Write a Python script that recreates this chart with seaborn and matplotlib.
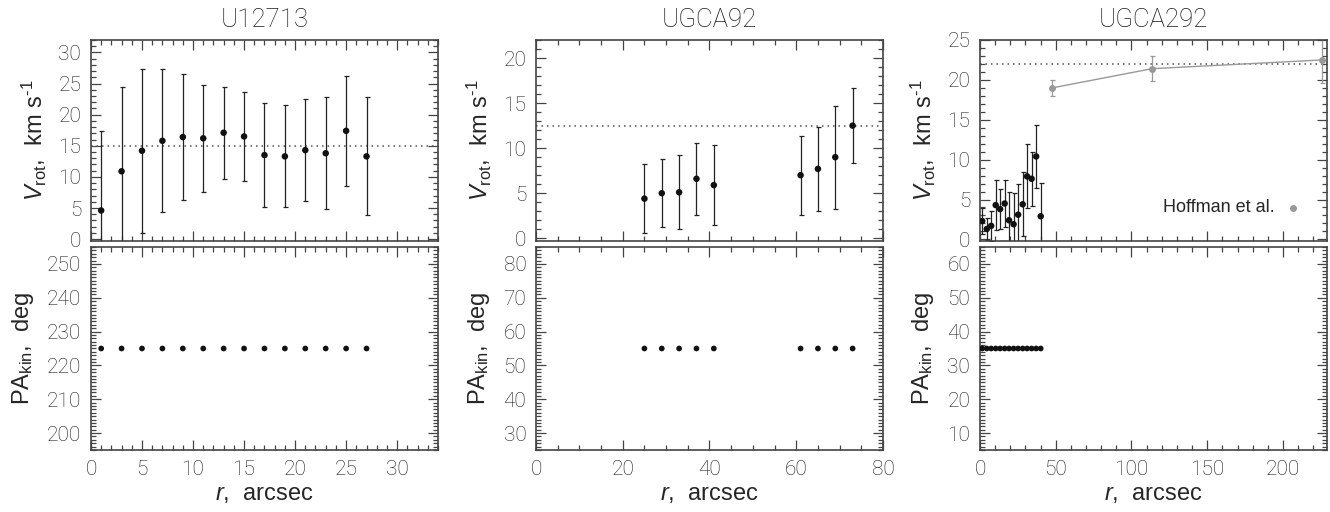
import pandas as pd
import seaborn as sns
import matplotlib.pyplot as plt
from matplotlib.ticker import MultipleLocator

# ---- data ----
# U12713
u127_r = [1, 3, 5, 7, 9, 11, 13, 15, 17, 19, 21, 23, 25, 27]
u127_v = [4.6, 10.9, 14.2, 15.8, 16.4, 16.2, 17.1, 16.5, 13.5, 13.3, 14.3, 13.8, 17.4, 13.3]
u127_err = [12.8, 13.5, 13.2, 11.5, 10.1, 8.6, 7.4, 7.2, 8.3, 8.2, 8.2, 9.0, 8.8, 9.5]
u127_pa = [225, 225, 225, 225, 225, 225, 225, 225, 225, 225, 225, 225, 225, 225]
u127_vsys = 15.0

# UGCA92
ugca92_r = [25, 29, 33, 37, 41, 61, 65, 69, 73]
ugca92_v = [4.4, 5.0, 5.1, 6.6, 5.9, 7.0, 7.7, 9.0, 12.5]
ugca92_err = [3.8, 3.8, 4.1, 4.0, 4.4, 4.4, 4.7, 5.7, 4.2]
ugca92_pa = [55, 55, 55, 55, 55, 55, 55, 55, 55]
ugca92_vsys = 12.5

# UGCA292
ugca292_r = [1.5, 4.5, 7.4, 10.4, 13.3, 16.3, 19.2, 22.2, 25.2, 28.2, 31.1, 34.1, 37.1, 40.1]
ugca292_v = [2.3, 1.3, 1.7, 4.3, 3.8, 4.5, 2.4, 1.9, 3.1, 4.4, 7.9, 7.6, 10.4, 2.9]
ugca292_err = [1.6, 1.4, 1.9, 3.1, 2.5, 2.9, 3.6, 3.9, 3.8, 4.0, 4.0, 3.4, 4.0, 4.2]
ugca292_pa = [35, 35, 35, 35, 35, 35, 35, 35, 35, 35, 35, 35, 35, 35]
ugca292_vsys = 22.0

# Hoffman et al. points for UGCA292
hoff_r = [47.8, 113.5, 226.0]
hoff_v = [19.0, 21.4, 22.5]
hoff_err = [1.0, 1.6, 2.9]

panels = [
    dict(name="U12713", r=u127_r, v=u127_v, err=u127_err, pa=u127_pa, vsys=u127_vsys,
         xlim=(0, 34), vlim=(-0.3, 32), palim=(195, 255),
         xmaj=5, xmin=1, vmaj=5, vmin=1),
    dict(name="UGCA92", r=ugca92_r, v=ugca92_v, err=ugca92_err, pa=ugca92_pa, vsys=ugca92_vsys,
         xlim=(0, 80), vlim=(-0.3, 22), palim=(25, 85),
         xmaj=20, xmin=5, vmaj=5, vmin=1),
    dict(name="UGCA292", r=ugca292_r, v=ugca292_v, err=ugca292_err, pa=ugca292_pa, vsys=ugca292_vsys,
         xlim=(0, 229), vlim=(-0.2, 25), palim=(5, 65),
         xmaj=50, xmin=10, vmaj=5, vmin=1),
]

sns.set_theme(style="ticks")
plt.rcParams["font.family"] = ["Roboto", "DejaVu Sans"]
plt.rcParams["mathtext.fontset"] = "custom"
plt.rcParams["mathtext.rm"] = "Liberation Sans"
plt.rcParams["mathtext.it"] = "Liberation Sans:italic"

LABEL_FONT = "Liberation Sans"
THIN_FAMILY = ["Roboto", "DejaVu Sans"]
AX_COL = "#444444"
TXT_COL = "#1a1a1a"
DOT_COL = "#111111"
GREY = "#999999"

fig = plt.figure(figsize=(13.3, 5.12), dpi=100)
lefts = [0.0684, 0.4030, 0.7368]
width = 0.2609


def style_axis(ax, p, ymaj, ymin):
    ax.xaxis.set_major_locator(MultipleLocator(p["xmaj"]))
    ax.xaxis.set_minor_locator(MultipleLocator(p["xmin"]))
    ax.yaxis.set_major_locator(MultipleLocator(ymaj))
    ax.yaxis.set_minor_locator(MultipleLocator(ymin))
    ax.tick_params(which="both", direction="in", top=True, right=True, color=AX_COL, width=0.9)
    ax.tick_params(which="major", length=7, labelsize=15, pad=7, labelcolor=TXT_COL)
    ax.tick_params(which="minor", length=3.5)
    for s in ax.spines.values():
        s.set_color(AX_COL)
        s.set_linewidth(1.2)
    for lab in ax.get_xticklabels() + ax.get_yticklabels():
        lab.set_fontfamily(THIN_FAMILY)
        lab.set_fontweight("light")


for i, p in enumerate(panels):
    df = pd.DataFrame({"r": p["r"], "v": p["v"], "err": p["err"], "pa": p["pa"]})

    # rotation curve
    ax = fig.add_axes([lefts[i], 0.5293, width, 0.3926])
    ax.axhline(p["vsys"], color="#555555", ls=(0, (1, 2.6)), lw=1.1, zorder=1)
    ax.errorbar(df["r"], df["v"], yerr=df["err"], fmt="none", ecolor="#222222",
                elinewidth=0.9, capsize=1.8, capthick=0.9, zorder=2)
    sns.scatterplot(data=df, x="r", y="v", ax=ax, color=DOT_COL, s=22,
                    edgecolor="none", zorder=3, legend=False)
    if p["name"] == "UGCA292":
        hdf = pd.DataFrame({"r": hoff_r, "v": hoff_v, "err": hoff_err})
        ax.errorbar(hdf["r"], hdf["v"], yerr=hdf["err"], fmt="none", ecolor=GREY,
                    elinewidth=0.9, capsize=1.8, capthick=0.9, zorder=2)
        sns.lineplot(data=hdf, x="r", y="v", ax=ax, color=GREY, lw=1.0, zorder=2,
                     marker="o", markersize=5, markeredgewidth=0, clip_on=False)
        ax.scatter([], [], color=GREY, s=16, label="Hoffman et al.")
        ax.legend(loc="center right", frameon=False, markerfirst=False,
                  handletextpad=0.0, borderaxespad=0.0, bbox_to_anchor=(0.975, 0.165),
                  prop={"family": LABEL_FONT, "size": 13})
    ax.set_xlim(p["xlim"])
    ax.set_ylim(p["vlim"])
    style_axis(ax, p, p["vmaj"], p["vmin"])
    ax.tick_params(labelbottom=False)
    ax.set_xlabel("")
    ax.set_ylabel(r"$V_{\rm rot}$,  km s$^{\text{-1}}$", fontsize=17, family=LABEL_FONT, labelpad=7)
    ax.set_title(p["name"], fontsize=18.5, pad=9, color=TXT_COL,
                 family=THIN_FAMILY, weight="light")

    # position angle
    ax2 = fig.add_axes([lefts[i], 0.1211, width, 0.3965])
    sns.scatterplot(data=df, x="r", y="pa", ax=ax2, color=DOT_COL, s=17,
                    edgecolor="none", zorder=3, legend=False)
    ax2.set_xlim(p["xlim"])
    ax2.set_ylim(p["palim"])
    style_axis(ax2, p, 10, 1)
    ax2.set_xlabel(r"$r$,  arcsec", fontsize=17, family=LABEL_FONT, labelpad=3)
    ax2.set_ylabel(r"PA$_{\rm kin}$,  deg", fontsize=17, family=LABEL_FONT, labelpad=8)

fig.savefig("out.png", dpi=100, facecolor="white")
